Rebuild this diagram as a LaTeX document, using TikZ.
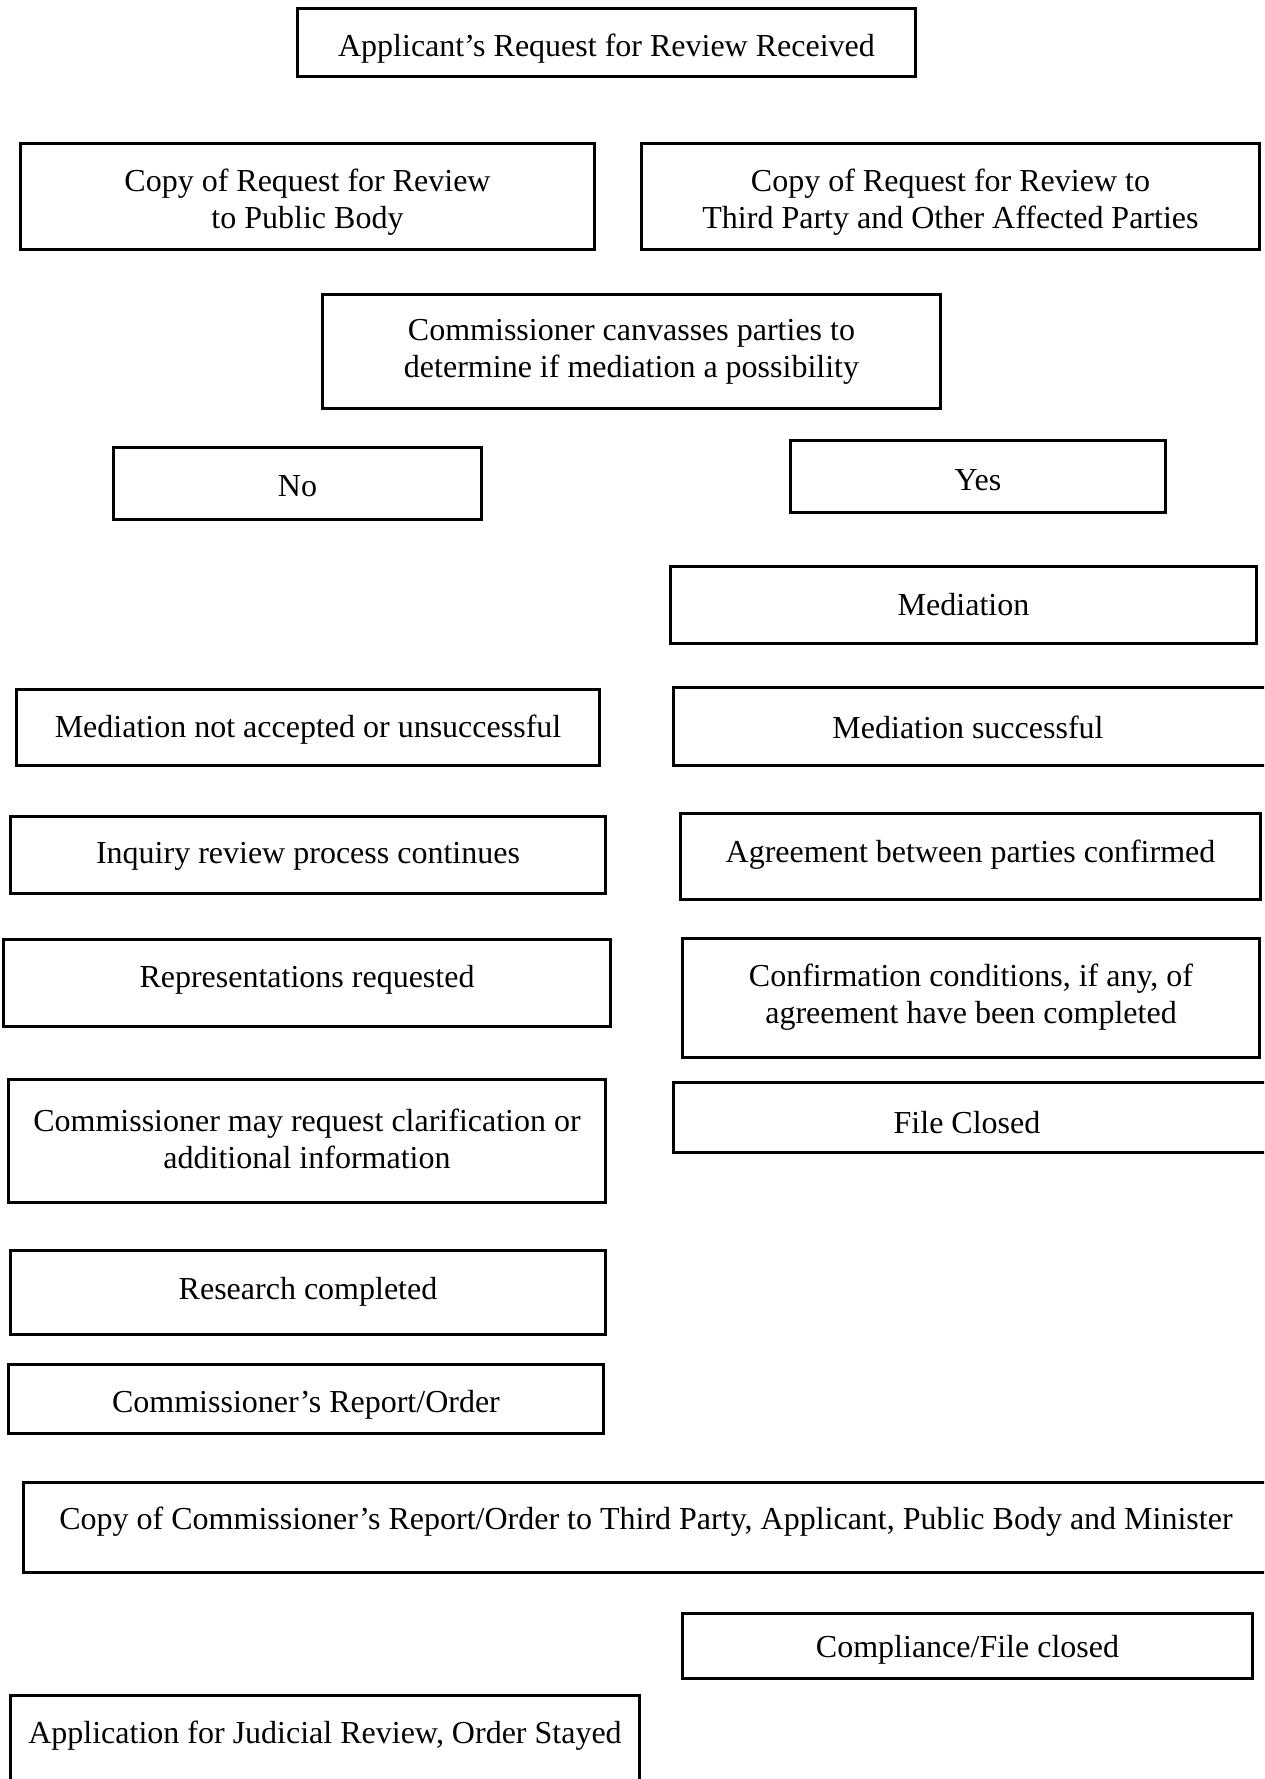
\documentclass[tikz,border=0pt]{standalone}
\usepackage{fontspec}
\setmainfont{Liberation Serif}
\begin{document}
\begin{tikzpicture}[x=1pt,y=-1pt,
  box/.style={draw=black, line width=3.5pt, rectangle, inner sep=0pt, outer sep=0pt},
  txt/.style={font=\fontsize{32}{37}\selectfont, align=center, inner sep=0pt}]
\useasboundingbox (0,0) rectangle (1264,1779);
\clip (0,0) rectangle (1264,1779);

\node[box, minimum width=618, minimum height=68, label={[txt, yshift=-6]center:{Applicant’s Request for Review Received}}] (n1) at (606.5,42.5) {};

\node[box, minimum width=574, minimum height=106, label={[txt, yshift=-6]center:{Copy of Request for Review\\to Public Body}}] (n2) at (307.5,196.5) {};
\node[box, minimum width=618, minimum height=106, label={[txt, yshift=-6]center:{Copy of Request for Review to\\Third Party and Other Affected Parties}}] (n3) at (950.5,196.5) {};

\node[box, minimum width=618, minimum height=114, label={[txt, yshift=0]center:{Commissioner canvasses parties to\\determine if mediation a possibility}}] (n4) at (631.5,351.5) {};

\node[box, minimum width=368, minimum height=72, label={[txt, yshift=-3]center:{No}}] (n5) at (297.5,483.5) {};
\node[box, minimum width=375, minimum height=72, label={[txt, yshift=-3.5]center:{Yes}}] (n6) at (978,476.5) {};

\node[box, minimum width=586, minimum height=77, label={[txt, yshift=0.5]center:{Mediation}}] (n7) at (963.5,605) {};

\node[box, minimum width=583, minimum height=76, label={[txt, yshift=-2]center:{Mediation not accepted or unsuccessful}}] (n8) at (308,727.5) {};
\node[box, minimum width=625, minimum height=78, label={[txt, xshift=-18, yshift=-1]center:{Mediation successful}}] (n9) at (986,726.5) {};

\node[box, minimum width=595, minimum height=77, label={[txt, yshift=-1.5]center:{Inquiry review process continues}}] (n10) at (308,855) {};
\node[box, minimum width=580, minimum height=86, label={[txt, yshift=2]center:{Agreement between parties confirmed}}] (n11) at (970.5,856.5) {};

\node[box, minimum width=607, minimum height=87, label={[txt, yshift=3.5]center:{Representations requested}}] (n12) at (307,983) {};
\node[box, minimum width=577, minimum height=119, label={[txt, yshift=0.5]center:{Confirmation conditions, if any, of\\agreement have been completed}}] (n13) at (971,998) {};

\node[box, minimum width=597, minimum height=123, label={[txt, yshift=2.5]center:{Commissioner may request clarification or\\additional information}}] (n14) at (307,1141) {};
\node[box, minimum width=625, minimum height=70, label={[txt, xshift=-19, yshift=-5]center:{File Closed}}] (n15) at (986,1117.5) {};

\node[box, minimum width=595, minimum height=84, label={[txt, yshift=1]center:{Research completed}}] (n16) at (308,1292.5) {};

\node[box, minimum width=595, minimum height=69, label={[txt, yshift=-5.5]center:{Commissioner’s Report/Order}}] (n17) at (306,1399) {};

\node[box, minimum width=1275, minimum height=90, label={[txt, xshift=-15, yshift=6]center:{Copy of Commissioner’s Report/Order to Third Party, Applicant, Public Body and Minister}}] (n18) at (661,1527.5) {};

\node[box, minimum width=570, minimum height=65, label={[txt, yshift=-3.5]center:{Compliance/File closed}}] (n19) at (967.5,1646) {};

\node[box, minimum width=629, minimum height=133, label={[txt, yshift=26.5]center:{Application for Judicial Review, Order Stayed}}] (n20) at (325,1762) {};
\end{tikzpicture}
\end{document}
